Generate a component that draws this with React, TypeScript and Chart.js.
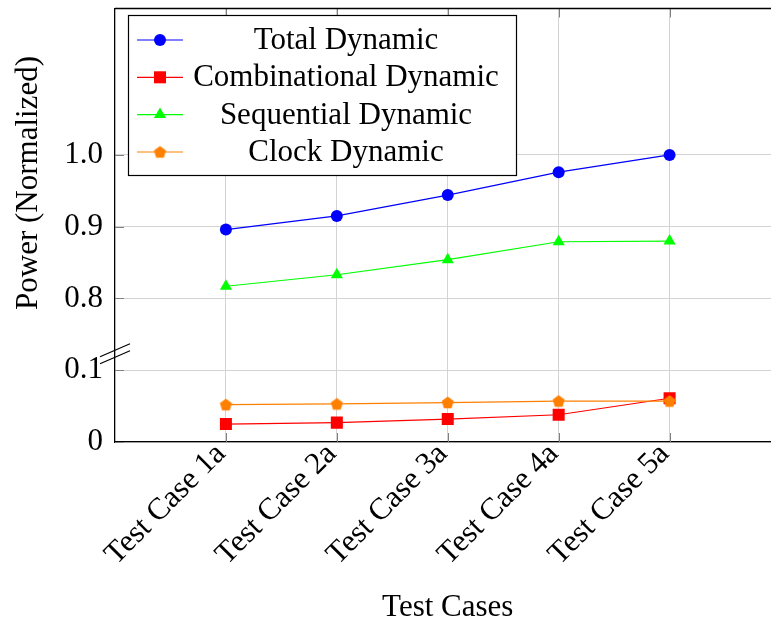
import React, { useEffect, useRef } from 'react';
import { Chart, registerables } from 'chart.js';
import { drawPoint } from 'chart.js/helpers';

Chart.register(...registerables);

const categories = ['Test Case 1a', 'Test Case 2a', 'Test Case 3a', 'Test Case 4a', 'Test Case 5a'];
const totalDynamic = [0.896, 0.915, 0.944, 0.976, 1.0];
const combinationalDynamic = [0.025, 0.027, 0.032, 0.038, 0.061];
const sequentialDynamic = [0.817, 0.833, 0.854, 0.879, 0.88];
const clockDynamic = [0.052, 0.053, 0.055, 0.057, 0.057];
const yTickValues = [0, 0.1, 0.8, 0.9, 1.0];
const yTickLabels = ['0', '0.1', '0.8', '0.9', '1.0'];
const seriesNames = ['Total Dynamic', 'Combinational Dynamic', 'Sequential Dynamic', 'Clock Dynamic'];
const seriesColors = ['#0000ff', '#ff0000', '#00ff00', '#ff8000'];

// broken axis: values above the break are shifted down
const BREAK_SHIFT = 0.6;
const toAxis = (v: number) => (v >= 0.5 ? v - BREAK_SHIFT : v);

const FONT = "'Liberation Serif', 'Times New Roman', serif";
const FS = 31;
const CANVAS_W = 789;
const CANVAS_H = 623;

function makePentagon(color: string, r: number) {
  const c = document.createElement('canvas');
  const s = Math.ceil(r * 2 + 2);
  c.width = s;
  c.height = s;
  const g = c.getContext('2d')!;
  g.beginPath();
  for (let i = 0; i < 5; i++) {
    const a = -Math.PI / 2 + (i * 2 * Math.PI) / 5;
    const px = s / 2 + r * Math.cos(a);
    const py = s / 2 + r * Math.sin(a) + 0.5;
    if (i === 0) g.moveTo(px, py);
    else g.lineTo(px, py);
  }
  g.closePath();
  g.fillStyle = color;
  g.fill();
  return c;
}

export default function App() {
  const ref = useRef<HTMLCanvasElement>(null);

  useEffect(() => {
    document.body.style.margin = '0';
    document.body.style.overflow = 'hidden';
    const canvas = ref.current!;
    const pent = makePentagon(seriesColors[3], 6.4);
    const styles: any[] = [
      { pointStyle: 'circle', radius: 6 },
      { pointStyle: 'rect', radius: 8.5 },
      { pointStyle: 'triangle', radius: 7 },
      { pointStyle: pent, radius: 6 },
    ];
    const seriesData = [totalDynamic, combinationalDynamic, sequentialDynamic, clockDynamic];
    const datasets = seriesData.map((arr, i) => ({
      label: seriesNames[i],
      data: arr.map((v, j) => ({ x: j, y: toAxis(v) })),
      borderColor: seriesColors[i],
      backgroundColor: seriesColors[i],
      borderWidth: 1.2,
      pointStyle: styles[i].pointStyle,
      pointRadius: styles[i].radius,
      pointBorderWidth: 0,
      pointBackgroundColor: seriesColors[i],
      order: 3 - i,
      tension: 0,
    }));

    const deco = {
      id: 'deco',
      afterDraw(chart: any) {
        const { ctx, chartArea: ca, scales } = chart;
        const xs = scales.x;
        const ys = scales.y;
        ctx.save();
        // inner tick marks
        ctx.strokeStyle = '#808080';
        ctx.lineWidth = 1;
        xs.ticks.forEach((t: any) => {
          const px = Math.round(xs.getPixelForValue(t.value)) + 0.5;
          ctx.beginPath();
          ctx.moveTo(px, ca.bottom);
          ctx.lineTo(px, ca.bottom - 9);
          ctx.moveTo(px, ca.top);
          ctx.lineTo(px, ca.top + 9);
          ctx.stroke();
        });
        ys.ticks.forEach((t: any) => {
          const py = Math.round(ys.getPixelForValue(t.value)) + 0.5;
          ctx.beginPath();
          ctx.moveTo(ca.left, py);
          ctx.lineTo(ca.left + 9, py);
          ctx.stroke();
        });
        // top axis line
        ctx.strokeStyle = '#000';
        ctx.lineWidth = 1.3;
        ctx.beginPath();
        ctx.moveTo(ca.left, ca.top);
        ctx.lineTo(ca.right, ca.top);
        ctx.stroke();
        // axis break marks
        const cy = ys.getPixelForValue(0.123);
        const cx = ca.left;
        ctx.lineWidth = 1.2;
        [-3.5, 3.5].forEach((off) => {
          ctx.beginPath();
          ctx.moveTo(cx - 15, cy + off + 6.5);
          ctx.lineTo(cx + 15, cy + off - 6.5);
          ctx.stroke();
        });
        // y axis title
        ctx.fillStyle = '#000';
        ctx.font = `${FS}px ${FONT}`;
        ctx.textAlign = 'center';
        ctx.textBaseline = 'middle';
        ctx.save();
        ctx.translate(29, 183);
        ctx.rotate(-Math.PI / 2);
        ctx.fillText('Power (Normalized)', 0, 0);
        ctx.restore();
        // legend
        const bx = 128.5, by = 15.5, bw = 388, bh = 160;
        ctx.fillStyle = '#fff';
        ctx.fillRect(bx, by, bw, bh);
        ctx.strokeStyle = '#000';
        ctx.lineWidth = 1.2;
        ctx.strokeRect(bx, by, bw, bh);
        const rows = [40, 77.3, 114.6, 152];
        seriesNames.forEach((name, i) => {
          const ry = rows[i];
          ctx.strokeStyle = seriesColors[i];
          ctx.fillStyle = seriesColors[i];
          ctx.lineWidth = 1.2;
          ctx.beginPath();
          ctx.moveTo(137, ry);
          ctx.lineTo(183, ry);
          ctx.stroke();
          drawPoint(ctx, { pointStyle: styles[i].pointStyle, radius: styles[i].radius, rotation: 0, borderWidth: 0 } as any, 160, ry);
          ctx.fillStyle = '#000';
          ctx.font = `${FS}px ${FONT}`;
          ctx.textAlign = 'center';
          ctx.textBaseline = 'middle';
          ctx.fillText(name, 346, ry + 1);
        });
        ctx.restore();
      },
    };

    const chart = new Chart(canvas, {
      type: 'line',
      data: { datasets },
      options: {
        animation: false,
        responsive: false,
        maintainAspectRatio: false,
        layout: { padding: { top: 8, right: 1, left: 0, bottom: 0 } },
        plugins: { legend: { display: false }, tooltip: { enabled: false } },
        scales: {
          x: {
            type: 'linear',
            min: -1,
            max: 5,
            afterBuildTicks: (scale: any) => {
              scale.ticks = categories.map((_, i) => ({ value: i }));
            },
            afterFit: (scale: any) => {
              scale.height = 181;
              scale.paddingLeft = 0;
              scale.paddingRight = 0;
            },
            ticks: {
              autoSkip: false,
              minRotation: 45,
              maxRotation: 45,
              padding: -6,
              labelOffset: -5,
              color: '#000',
              font: { family: FONT, size: FS },
              callback: (_v: any, i: number) => categories[i],
            },
            grid: { color: '#d3d3d3', lineWidth: 1, drawTicks: false },
            border: { color: '#000', width: 1.3 },
            title: {
              display: true,
              text: 'Test Cases',
              color: '#000',
              font: { family: FONT, size: FS, lineHeight: 1 },
              padding: 0,
            },
          },
          y: {
            type: 'linear',
            min: 0,
            max: 0.604,
            afterBuildTicks: (scale: any) => {
              scale.ticks = yTickValues.map((v) => ({ value: toAxis(v) }));
            },
            afterFit: (scale: any) => {
              scale.width = 115;
              scale.paddingTop = 0;
              scale.paddingBottom = 0;
            },
            ticks: {
              autoSkip: false,
              padding: 12,
              color: '#000',
              font: { family: FONT, size: FS },
              callback: (_v: any, i: number) => yTickLabels[i],
            },
            grid: { color: '#d3d3d3', lineWidth: 1, drawTicks: false },
            border: { color: '#000', width: 1.3 },
          },
        },
      },
      plugins: [deco],
    } as any);
    return () => chart.destroy();
  }, []);

  return (
    <div style={{ width: 771, height: 623, overflow: 'hidden', position: 'relative' }}>
      <div style={{ width: CANVAS_W, height: CANVAS_H, position: 'absolute', left: 0, top: 0 }}>
        <canvas ref={ref} width={CANVAS_W} height={CANVAS_H} style={{ display: 'block', width: CANVAS_W, height: CANVAS_H }} />
      </div>
    </div>
  );
}
